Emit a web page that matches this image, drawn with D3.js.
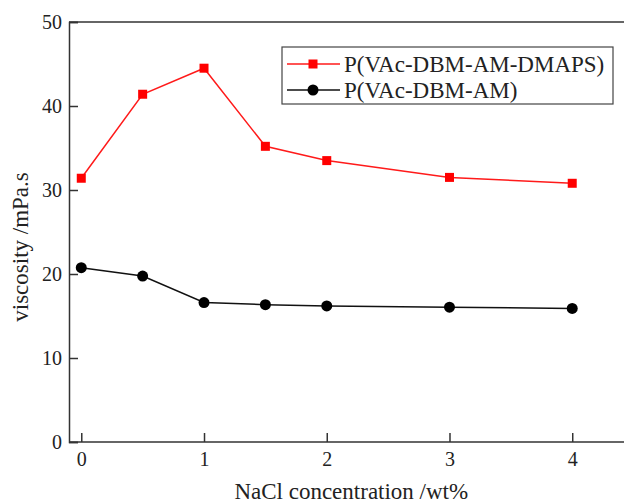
<!DOCTYPE html>
<html>
<head>
<meta charset="utf-8">
<script src="https://cdn.jsdelivr.net/npm/d3@7"></script>
<style>
  body { margin: 0; background: #fff; }
</style>
</head>
<body>
<div id="chart"></div>
<script>
// NaCl konc. (wt%) och viskositet (mPa.s)
const nacl = [0, 0.5, 1, 1.5, 2, 3, 4];
const dmaps = [31.4, 41.4, 44.5, 35.2, 33.5, 31.5, 30.8];
const am = [20.75, 19.75, 16.6, 16.35, 16.2, 16.05, 15.9];
const seriesNames = ["P(VAc-DBM-AM-DMAPS)", "P(VAc-DBM-AM)"];
const xTicks = [0, 1, 2, 3, 4];
const yTicks = [0, 10, 20, 30, 40, 50];

const width = 624, height = 504;
const serif = "Liberation Serif";

const svg = d3.select("#chart").append("svg")
  .attr("width", width)
  .attr("height", height);

const x = d3.scaleLinear().domain([-0.1, 4.5]).range([69, 633.6]);
const y = d3.scaleLinear().domain([0, 50]).range([442, 22]);

const axisColor = "#333";

// ram: övre linje
svg.append("line")
  .attr("x1", x(-0.1)).attr("x2", width + 10)
  .attr("y1", y(50)).attr("y2", y(50))
  .attr("stroke", axisColor).attr("stroke-width", 1.5);

// x-axel, ticks inåt
const xAxis = svg.append("g").attr("transform", `translate(0,${y(0)})`);
xAxis.call(d3.axisBottom(x).tickValues(d3.range(0.5, 4.6, 1)).tickSize(-5).tickFormat(""));
xAxis.call(d3.axisBottom(x).tickValues(xTicks).tickSize(-9).tickPadding(0).tickFormat(d3.format("d")));
xAxis.selectAll(".domain").attr("d", `M${x(-0.1)},0H${width + 10}`);
xAxis.selectAll("line, path").attr("stroke", axisColor).attr("stroke-width", 1.5);
xAxis.selectAll("text")
  .attr("y", 24).attr("dy", 0)
  .style("font-family", serif)
  .style("font-size", "20px")
  .attr("fill", "#222");

// y-axel, ticks inåt
const yAxis = svg.append("g").attr("transform", `translate(${x(-0.1)},0)`);
yAxis.call(d3.axisLeft(y).tickValues(d3.range(5, 50, 10)).tickSize(-5).tickFormat(""));
yAxis.call(d3.axisLeft(y).tickValues(yTicks).tickSize(-9).tickPadding(0).tickFormat(d3.format("d")));
yAxis.selectAll("line, path").attr("stroke", axisColor).attr("stroke-width", 1.5);
yAxis.selectAll("text")
  .attr("x", -7).attr("dy", "0.34em")
  .style("font-family", serif)
  .style("font-size", "20px")
  .attr("fill", "#222");

// axeltitlar
svg.append("text")
  .attr("x", (x(-0.1) + x(4.5)) / 2).attr("y", 499)
  .attr("text-anchor", "middle")
  .attr("fill", "#222")
  .style("font-family", serif)
  .style("font-size", "23px")
  .text("NaCl concentration /wt%");

svg.append("text")
  .attr("transform", "translate(28,247) rotate(-90)")
  .attr("text-anchor", "middle")
  .attr("fill", "#222")
  .style("font-family", serif)
  .style("font-size", "23px")
  .text("viscosity /mPa.s");

// linjer
const line = d3.line().x((d, i) => x(nacl[i])).y(d => y(d));

svg.append("path").datum(am)
  .attr("d", line).attr("fill", "none")
  .attr("stroke", "#111").attr("stroke-width", 1.5);

svg.selectAll("circle.am").data(am).enter()
  .append("circle")
  .attr("cx", (d, i) => x(nacl[i]))
  .attr("cy", d => y(d))
  .attr("r", 5.5)
  .attr("fill", "#000");

svg.append("path").datum(dmaps)
  .attr("d", line).attr("fill", "none")
  .attr("stroke", "#ff1a1a").attr("stroke-width", 1.5);

const sq = 9;
svg.selectAll("rect.dmaps").data(dmaps).enter()
  .append("rect")
  .attr("x", (d, i) => x(nacl[i]) - sq / 2)
  .attr("y", d => y(d) - sq / 2)
  .attr("width", sq).attr("height", sq)
  .attr("fill", "#ff0000");

// legend
const legend = svg.append("g");
legend.append("rect")
  .attr("x", 282).attr("y", 47)
  .attr("width", 331).attr("height", 57)
  .attr("fill", "#fff")
  .attr("stroke", "#444").attr("stroke-width", 1.2);

const rows = [
  { name: seriesNames[0], color: "#ff1a1a", shape: "square", cy: 64 },
  { name: seriesNames[1], color: "#111", shape: "circle", cy: 90 }
];

rows.forEach(r => {
  legend.append("line")
    .attr("x1", 287).attr("x2", 340)
    .attr("y1", r.cy).attr("y2", r.cy)
    .attr("stroke", r.color).attr("stroke-width", 1.5);
  if (r.shape === "square") {
    legend.append("rect")
      .attr("x", 313 - sq / 2).attr("y", r.cy - sq / 2)
      .attr("width", sq).attr("height", sq)
      .attr("fill", "#ff0000");
  } else {
    legend.append("circle")
      .attr("cx", 313).attr("cy", r.cy).attr("r", 5.5)
      .attr("fill", "#000");
  }
  legend.append("text")
    .attr("x", 344).attr("y", r.cy)
    .attr("dy", "0.35em")
    .attr("fill", "#222")
    .style("font-family", serif)
    .style("font-size", "23px")
    .text(r.name);
});
</script>
</body>
</html>
